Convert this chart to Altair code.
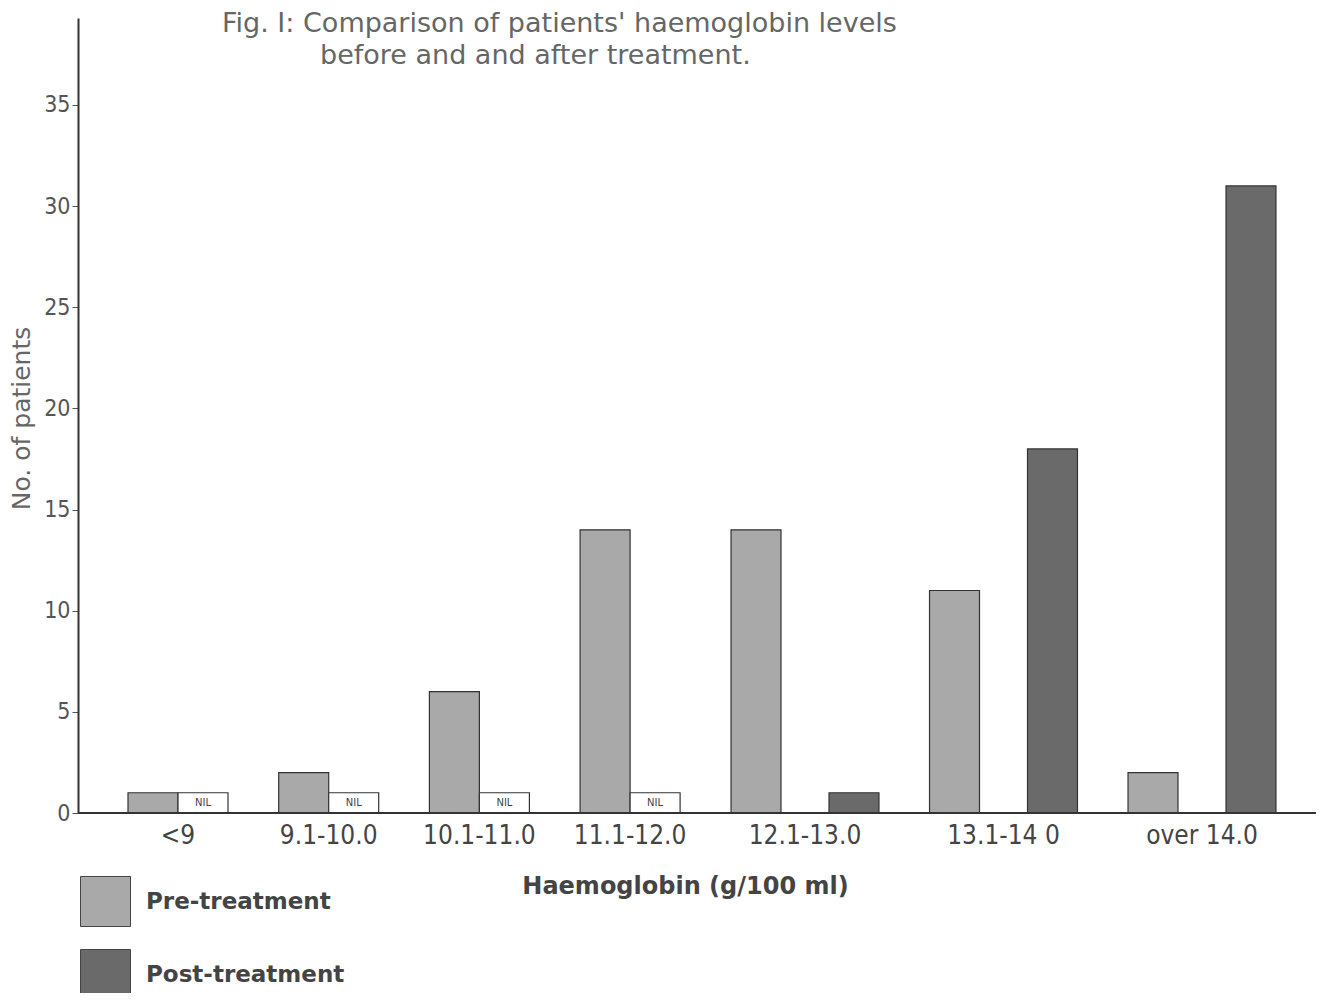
import altair as alt
import pandas as pd

# ---- data ----
categories = ["<9", "9.1-10.0", "10.1-11.0", "11.1-12.0", "12.1-13.0", "13.1-14 0", "over 14.0"]
pre_treatment = [1, 2, 6, 14, 14, 11, 2]
post_treatment = [0, 0, 0, 0, 1, 18, 31]          # 0 = drawn as an empty "NIL" box
series_names = ["Pre-treatment", "Post-treatment"]
title_lines = ["Fig. I:  Comparison of patients' haemoglobin levels", "before and and after treatment."]
x_title = "Haemoglobin (g/100 ml)"
y_title = "No. of patients"
y_ticks = [0, 5, 10, 15, 20, 25, 30, 35]
NIL_BOX = 1  # drawn height of the empty NIL boxes

rows = []
for i, cat in enumerate(categories):
    part = "A" if i < 4 else "B"
    rows.append({"cat": cat, "series": series_names[0], "value": pre_treatment[i],
                 "h": pre_treatment[i], "nil": False, "part": part})
    nil = post_treatment[i] == 0
    rows.append({"cat": cat, "series": series_names[1], "value": post_treatment[i],
                 "h": NIL_BOX if nil else post_treatment[i], "nil": nil, "part": part})
df = pd.DataFrame(rows)
dfA = df[df.part == "A"]
dfB = df[df.part == "B"]
catsA = categories[:4]
catsB = categories[4:]

LABEL_FONT = "Liberation Sans Narrow, DejaVu Sans Condensed, Liberation Sans, sans-serif"

yenc = alt.Y("h:Q", scale=alt.Scale(domain=[0, 39.3], nice=False),
             axis=alt.Axis(values=y_ticks, title=y_title, grid=False, domainColor="#333",
                           domainWidth=2, tickColor="#555", tickSize=6, labelPadding=2,
                           labelFont=LABEL_FONT, labelFontSize=23, labelColor="#555",
                           titleFont="DejaVu Sans", titleFontSize=25, titleColor="#666",
                           titleFontWeight="normal", titleX=-57, titleY=400,
                           titleBaseline="middle", titleAlign="center", titleAngle=270))

fill_scale = alt.Scale(domain=series_names, range=["#a9a9a9", "#6a6a6a"])
fill_enc = alt.condition("datum.nil", alt.value("white"),
                         alt.Fill("series:N", scale=fill_scale,
                                  legend=alt.Legend(orient="none", legendX=2, legendY=858, title=None,
                                                    symbolType="square", symbolSize=2500,
                                                    symbolStrokeColor="#444", symbolStrokeWidth=1,
                                                    symbolOpacity=1, rowPadding=18, labelOffset=15,
                                                    labelFont="DejaVu Sans", labelFontSize=23,
                                                    labelFontWeight="bold", labelColor="#444",
                                                    labelLimit=400)))

axis_common = dict(orient="bottom", domain=False, ticks=False, tickSize=0, labelPadding=9,
                   labelFont=LABEL_FONT, labelFontSize=26, labelColor="#444", labelAngle=0)

xA = alt.X("cat:N", sort=catsA,
           scale=alt.Scale(domain=catsA, range=[24.65, 627.45], paddingInner=0, paddingOuter=0),
           axis=alt.Axis(title=x_title, titleX=607, titleY=73, titleAlign="center",
                         titleBaseline="middle", titleFont="DejaVu Sans", titleFontSize=24,
                         titleFontWeight="bold", titleColor="#444", **axis_common))
xoA = alt.XOffset("series:N", sort=series_names,
                  scale=alt.Scale(domain=series_names, paddingInner=0, paddingOuter=0.507))

xB = alt.X("cat:N", sort=catsB,
           scale=alt.Scale(domain=catsB, range=[627.75, 1223.25], paddingInner=0, paddingOuter=0),
           axis=alt.Axis(title=None, **axis_common))
xoB = alt.XOffset("series:N", sort=series_names,
                  scale=alt.Scale(domain=series_names, paddingInner=0.49, paddingOuter=0.258))

barsA = alt.Chart(dfA).mark_bar(stroke="#333", strokeWidth=1.2).encode(
    x=xA, xOffset=xoA, y=yenc, fill=fill_enc)
nilA = alt.Chart(dfA).transform_filter("datum.nil").transform_calculate(
    mid="datum.h / 2").mark_text(text="NIL", fontSize=10, font="DejaVu Sans", color="#444",
                                 baseline="middle").encode(
    x=xA, xOffset=xoA, y=alt.Y("mid:Q"))
layerA = alt.layer(barsA, nilA)

barsB = alt.Chart(dfB).mark_bar(stroke="#333", strokeWidth=1.2).encode(
    x=xB, xOffset=xoB, y=yenc, fill=fill_enc)

baseline = alt.Chart(pd.DataFrame({"y0": [0]})).mark_rule(color="#333", strokeWidth=2).encode(
    y="y0:Q", x=alt.value(0), x2=alt.value(1238))

t1 = alt.Chart(pd.DataFrame({"t": [title_lines[0]]})).mark_text(
    align="left", baseline="alphabetic", font="DejaVu Sans", fontSize=27, color="#666").encode(
    text="t:N", x=alt.value(144), y=alt.value(14))
t2 = alt.Chart(pd.DataFrame({"t": [title_lines[1]]})).mark_text(
    align="left", baseline="alphabetic", font="DejaVu Sans", fontSize=27, color="#666").encode(
    text="t:N", x=alt.value(242), y=alt.value(46))

chart = alt.layer(layerA, barsB, baseline, t1, t2).resolve_scale(
    x="independent", xOffset="independent"
).properties(
    width=1230, height=795,
    background="white",
    autosize=alt.AutoSizeParams(type="none"),
    padding={"left": 70, "top": 10, "right": 9, "bottom": 180},
).configure_view(strokeWidth=0, stroke="transparent")

chart.save("out.html", embed_options={"renderer": "svg", "actions": False})
